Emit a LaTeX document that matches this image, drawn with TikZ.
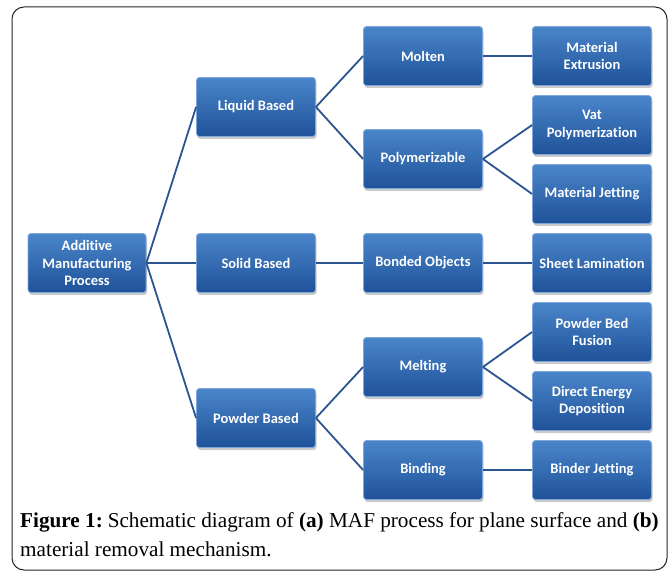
\documentclass[tikz,border=0pt]{standalone}
\usepackage{fontspec}
\newfontfamily\boxfont{Carlito}[Ligatures=NoCommon]
\newfontfamily\capfont{Liberation Serif}
\usetikzlibrary{shadows}
\definecolor{boxtop}{HTML}{4A85CA}
\definecolor{boxbot}{HTML}{1F5299}
\definecolor{boxedge}{HTML}{7FA7DB}
\definecolor{linkcol}{HTML}{2B5590}
\tikzset{
  box/.style={rectangle, rounded corners=3pt, draw=boxedge, line width=0.8pt,
    top color=boxtop, bottom color=boxbot, minimum width=119pt, minimum height=59pt,
    inner sep=2pt, align=center, text=white, font=\boxfont\bfseries\fontsize{14.5}{17.5}\selectfont,
    drop shadow={shadow xshift=1pt, shadow yshift=-2.5pt, fill=black!35, opacity=0.6}},
  link/.style={draw=linkcol, line width=1.8pt},
  captxt/.style={anchor=base west, inner sep=0pt, font=\capfont\fontsize{21.2}{24}\selectfont}
}
\begin{document}
\begin{tikzpicture}[x=1pt,y=-1pt]
\useasboundingbox (0,0) rectangle (670,572);
\draw[line width=1pt, rounded corners=12pt, color=black!85] (12,7) rectangle (667,570);
% level 0
\node[box, minimum width=118pt] (am) at (87,263) {Additive\\Manufacturing\\Process};
% level 1
\node[box] (liq) at (256,107) {Liquid Based};
\node[box] (sol) at (256,263) {Solid Based};
\node[box] (pow) at (256,418) {Powder Based};
% level 2
\node[box] (mol) at (423,56) {Molten};
\node[box] (pol) at (423,159) {Polymerizable};
\node[box] (bon) at (423,263) {Bonded Objects};
\node[box] (mel) at (423,367) {Melting};
\node[box] (bin) at (423,470) {Binding};
% level 3
\node[box] (mex) at (592,56) {Material\\Extrusion};
\node[box] (vat) at (592,125) {Vat\\Polymerization};
\node[box] (mje) at (592,194) {Material Jetting};
\node[box] (she) at (592,263) {Sheet Lamination};
\node[box] (pbf) at (592,332) {Powder Bed\\Fusion};
\node[box] (ded) at (592,401) {Direct Energy\\Deposition};
\node[box] (bje) at (592,470) {Binder Jetting};
% connectors
\path[link] (am.east) -- (liq.west);
\path[link] (am.east) -- (sol.west);
\path[link] (am.east) -- (pow.west);
\path[link] (liq.east) -- (mol.west);
\path[link] (liq.east) -- (pol.west);
\path[link] (sol.east) -- (bon.west);
\path[link] (pow.east) -- (mel.west);
\path[link] (pow.east) -- (bin.west);
\path[link] (mol.east) -- (mex.west);
\path[link] (pol.east) -- (vat.west);
\path[link] (pol.east) -- (mje.west);
\path[link] (bon.east) -- (she.west);
\path[link] (mel.east) -- (pbf.west);
\path[link] (mel.east) -- (ded.west);
\path[link] (bin.east) -- (bje.west);
% caption
\node[captxt] (cap1) at (20,527) {\textbf{Figure 1:}\hspace{-0.1em} Schematic diagram of \textbf{(a)} MAF process for plane surface and \textbf{(b)}};
\node[captxt] (cap2) at (20,556) {material removal mechanism.};
\end{tikzpicture}
\end{document}
